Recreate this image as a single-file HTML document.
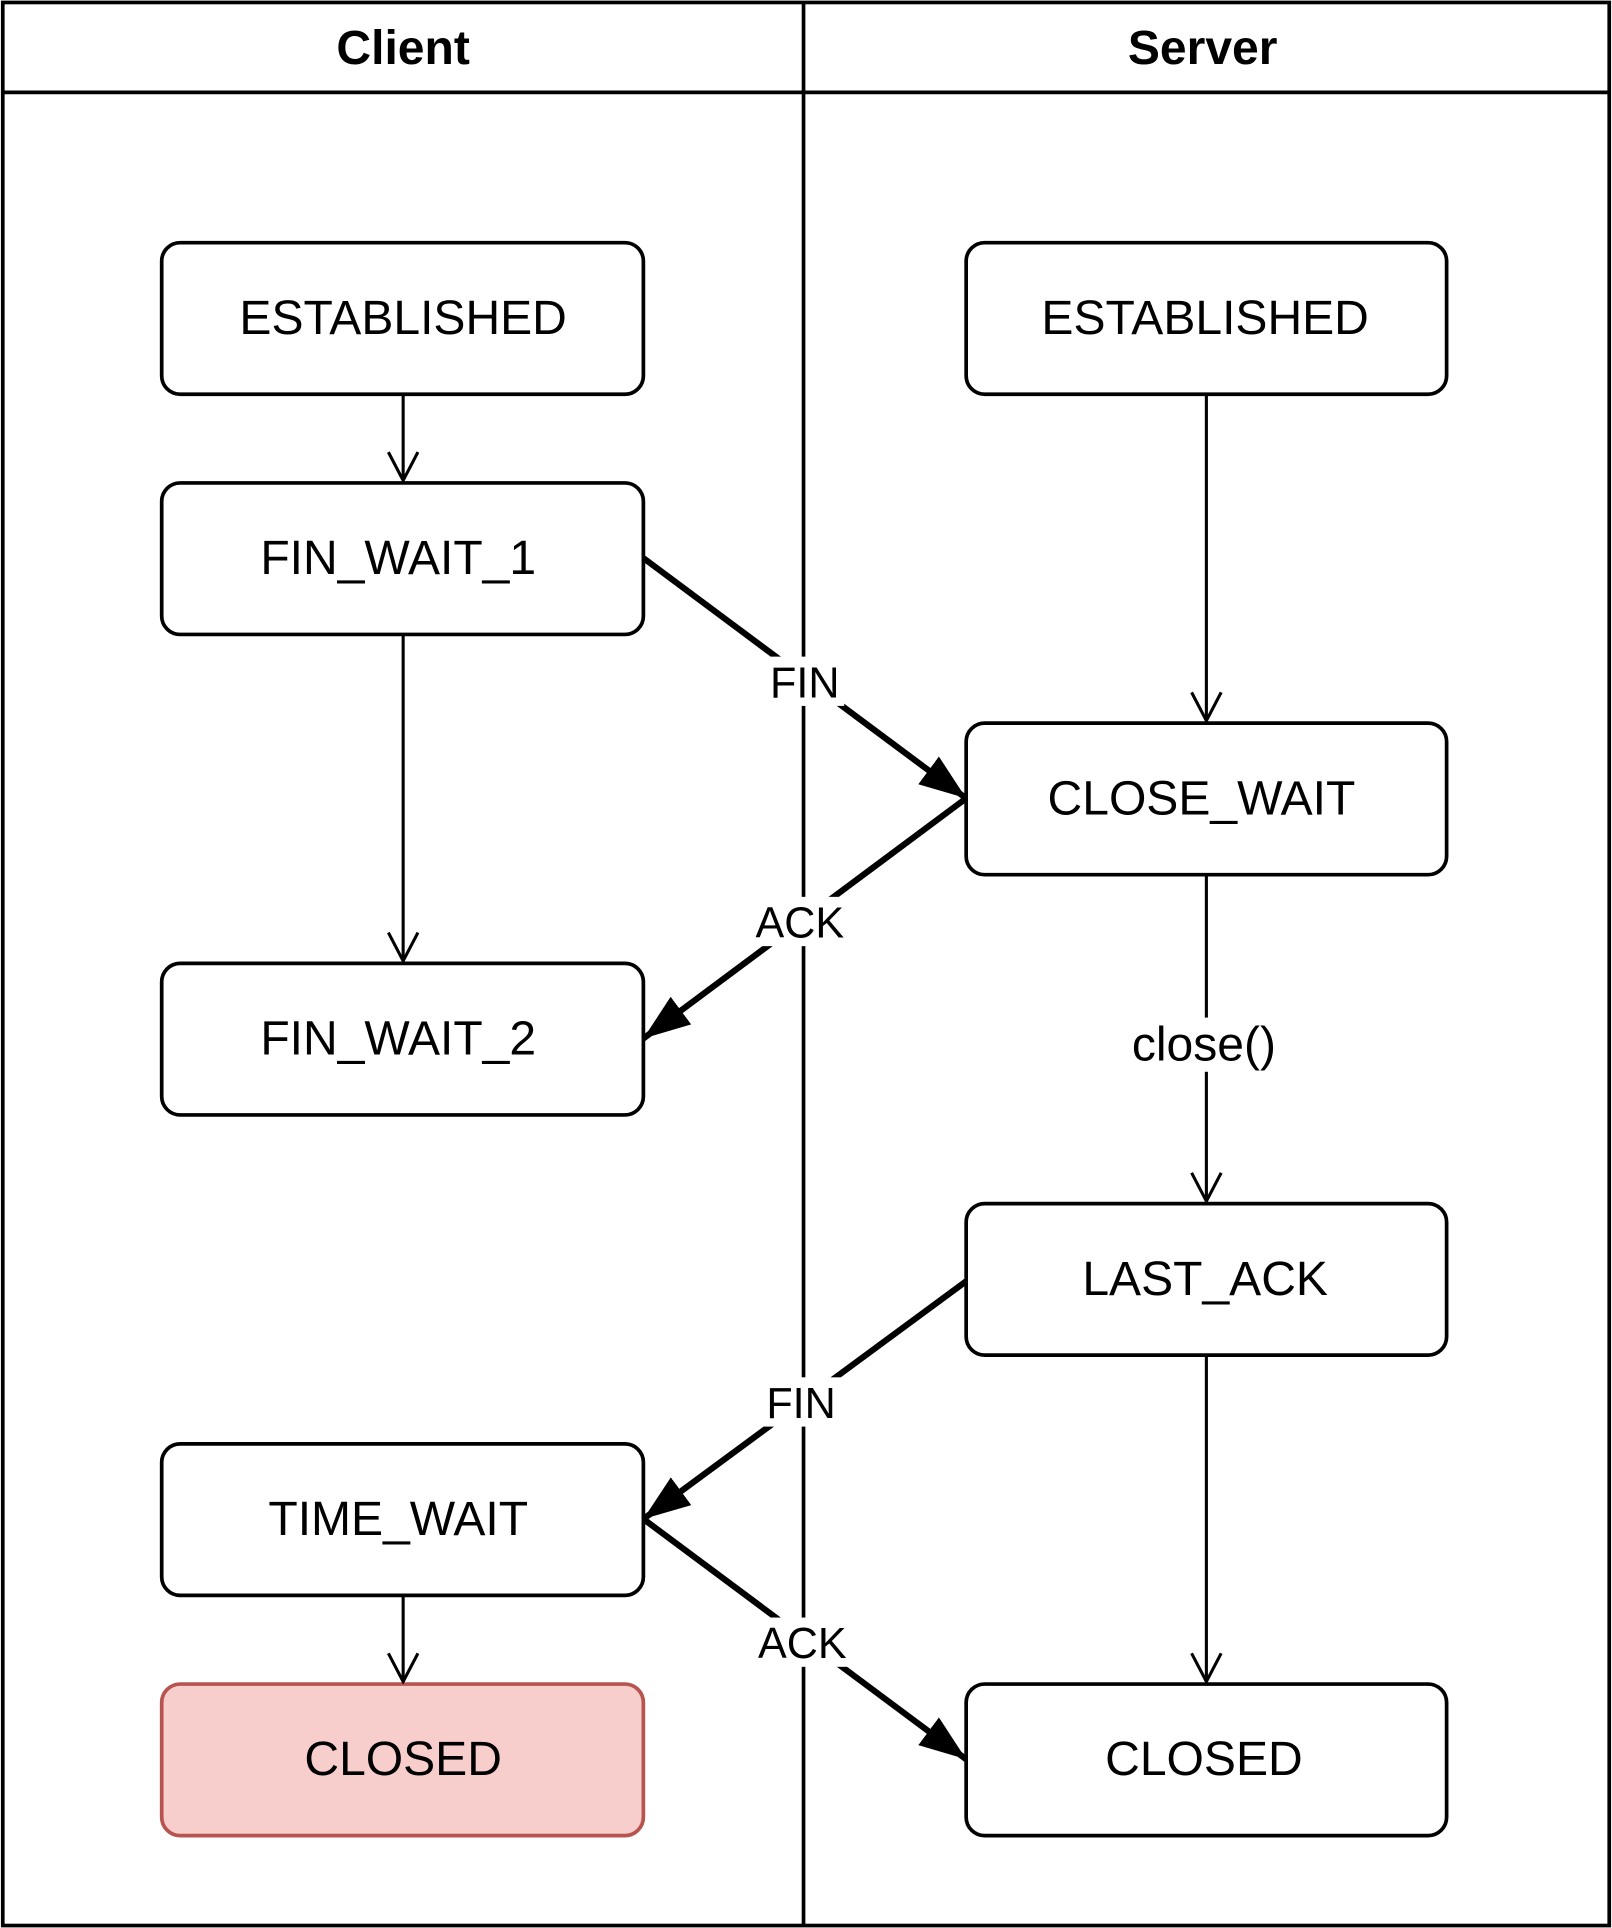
<!DOCTYPE html>
<html><head><meta charset="utf-8"><style>html,body{margin:0;padding:0;background:#fff}svg{display:block}</style></head>
<body>
<svg width="1612" height="1928" viewBox="0 0 1308 1565" xmlns="http://www.w3.org/2000/svg" font-family="Liberation Sans, Arial, sans-serif">
<defs>
<marker id="open" markerWidth="26" markerHeight="28" refX="24" refY="13" orient="auto" markerUnits="userSpaceOnUse" viewBox="0 0 26 28">
<path d="M1,1 L24,13 L1,25" fill="none" stroke="#000" stroke-width="2.5"/>
</marker>
<marker id="block" markerWidth="40" markerHeight="34" refX="38" refY="17" orient="auto" markerUnits="userSpaceOnUse" viewBox="0 0 40 34">
<path d="M0,3 L38,17 L0,31 Z" fill="#000"/>
</marker>
</defs>
<rect x="2" y="2" width="1304" height="1561" fill="#fff" stroke="#000" stroke-width="3"/>
<line x1="2" y1="75" x2="1306" y2="75" stroke="#000" stroke-width="3"/>
<line x1="652" y1="2" x2="652" y2="1563" stroke="#000" stroke-width="3"/>
<text x="327" y="52" font-size="39" font-weight="bold" text-anchor="middle">Client</text>
<text x="976" y="52" font-size="39" font-weight="bold" text-anchor="middle">Server</text>

<g stroke="#000" stroke-width="3" fill="#fff">
<rect x="131" y="197" width="391" height="123" rx="15"/>
<rect x="131" y="392" width="391" height="123" rx="15"/>
<rect x="131" y="782" width="391" height="123" rx="15"/>
<rect x="131" y="1172" width="391" height="123" rx="15"/>
<rect x="131" y="1367" width="391" height="123" rx="15" fill="#f8cecc" stroke="#b85450"/>
<rect x="784" y="197" width="390" height="123" rx="15"/>
<rect x="784" y="587" width="390" height="123" rx="15"/>
<rect x="784" y="977" width="390" height="123" rx="15"/>
<rect x="784" y="1367" width="390" height="123" rx="15"/>
</g>
<g font-size="39" text-anchor="middle">
<text x="327" y="271">ESTABLISHED</text>
<text x="323" y="466">FIN_WAIT_1</text>
<text x="323" y="856">FIN_WAIT_2</text>
<text x="323" y="1246">TIME_WAIT</text>
<text x="327" y="1441">CLOSED</text>
<text x="978" y="271">ESTABLISHED</text>
<text x="975" y="661">CLOSE_WAIT</text>
<text x="978" y="1051">LAST_ACK</text>
<text x="977" y="1441">CLOSED</text>
</g>
<g stroke="#000" stroke-width="2.5" fill="none" marker-end="url(#open)">
<line x1="327" y1="320" x2="327" y2="390"/>
<line x1="327" y1="515" x2="327" y2="780"/>
<line x1="327" y1="1296" x2="327" y2="1365"/>
<line x1="979" y1="320" x2="979" y2="585"/>
<line x1="979" y1="710" x2="979" y2="975"/>
<line x1="979" y1="1100" x2="979" y2="1365"/>
</g>
<g stroke="#000" stroke-width="5" fill="none" marker-end="url(#block)">
<line x1="522" y1="453" x2="784" y2="648"/>
<line x1="784" y1="648" x2="522" y2="843"/>
<line x1="784" y1="1040" x2="522" y2="1233"/>
<line x1="522" y1="1233" x2="784" y2="1428"/>
</g>
<g font-size="35" text-anchor="middle">
<rect x="621" y="533" width="64" height="40" fill="#fff"/>
<text x="653" y="566">FIN</text>
<rect x="608" y="728" width="82" height="40" fill="#fff"/>
<text x="649" y="761">ACK</text>
<rect x="618" y="1118" width="64" height="40" fill="#fff"/>
<text x="650" y="1151">FIN</text>
<rect x="610" y="1313" width="82" height="40" fill="#fff"/>
<text x="651" y="1346">ACK</text>
<rect x="908" y="826" width="138" height="44" fill="#fff"/>
<text x="977" y="861" font-size="39">close()</text>
</g>
</svg>
</body></html>
